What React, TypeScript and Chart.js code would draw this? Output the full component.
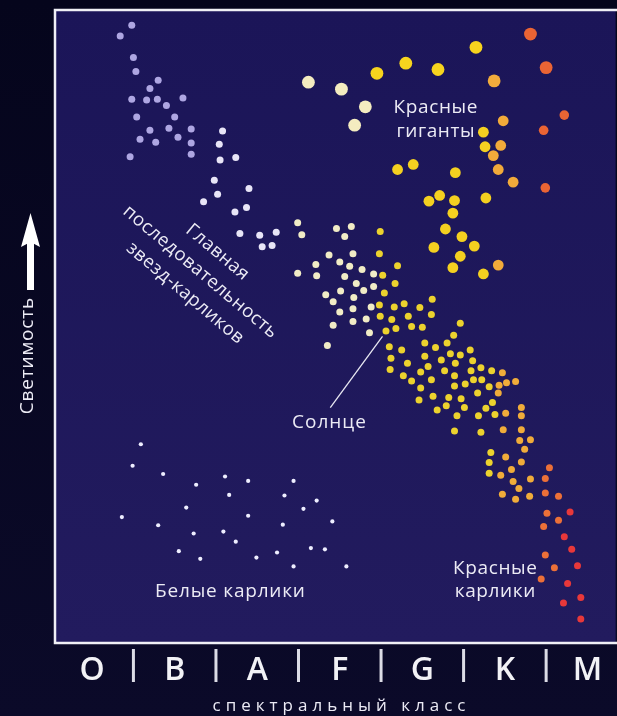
import React, { useEffect, useRef } from "react";
import { Chart, registerables } from "chart.js";
Chart.register(...registerables);

// ---------- DATA (x: spectral class index, O=0..M=6 with class width 1; y: relative luminosity 0..100) ----------
const spectralClasses = ["O", "B", "A", "F", "G", "K", "M"];
const xAxisTitle = "спектральный класс";
const yAxisTitle = "Светимость";

type P = [number, number];

const mainSeqOB: P[] = [
  [0.98, 97.6], [0.84, 95.9], [1.0, 92.5], [1.03, 90.3], [1.3, 88.9], [1.2, 87.6], [0.98, 85.9], [1.16, 85.8],
  [1.29, 85.9], [1.4, 84.9], [1.6, 86.1], [1.04, 83.1], [1.5, 83.1], [1.2, 81.0], [1.43, 81.3], [1.7, 81.2],
  [1.08, 79.6], [1.27, 79.1], [1.54, 79.9], [1.7, 79.0], [1.7, 77.2], [0.96, 76.8],
];
const mainSeqA: P[] = [
  [2.08, 80.9], [2.04, 78.8], [2.05, 76.3], [2.24, 76.7], [1.98, 73.1], [2.02, 70.9], [2.4, 71.8], [1.85, 69.7],
  [2.23, 68.1], [2.37, 68.8], [2.29, 64.7], [2.53, 64.4], [2.73, 64.9], [2.56, 62.6], [2.68, 62.8],
];
const mainSeqF: P[] = [
  [2.99, 66.4], [3.04, 64.5], [2.99, 58.4], [3.21, 59.8], [3.22, 58.0], [3.46, 65.5], [3.64, 65.8], [3.56, 64.2],
  [3.37, 61.3], [3.66, 61.5], [3.5, 60.2], [3.62, 59.5], [3.77, 59.0], [3.56, 57.9], [3.91, 58.3], [3.7, 56.8],
  [3.91, 56.3], [3.33, 55.0], [3.51, 55.6], [3.79, 55.7], [3.42, 53.9], [3.67, 54.6], [3.88, 53.1], [3.5, 52.3],
  [3.66, 52.8], [3.66, 50.8], [3.82, 51.2], [3.42, 50.2], [3.86, 49.0], [3.35, 47.0],
];
const mainSeqG: P[] = [
  [3.99, 65.0], [3.98, 61.5], [4.02, 58.1], [4.2, 59.6], [4.17, 56.8], [4.04, 55.3], [3.98, 53.4], [4.16, 53.1],
  [4.28, 53.6], [4.47, 53.0], [4.62, 54.3], [3.99, 51.6], [4.13, 51.1], [4.33, 51.6], [4.61, 51.9], [4.06, 49.3],
  [4.18, 49.7], [4.37, 50.0], [4.5, 49.9], [4.96, 50.5], [4.88, 48.6], [4.1, 46.8], [4.25, 46.3], [4.53, 47.4],
  [4.66, 46.7], [4.8, 47.4], [5.08, 46.3], [4.12, 45.0], [4.32, 44.2], [4.53, 45.3], [4.73, 44.7], [4.84, 45.7],
  [4.96, 45.5], [4.9, 44.2], [5.11, 44.6], [4.11, 43.2], [4.27, 42.2], [4.48, 42.8], [4.57, 43.7], [4.77, 43.0],
  [4.89, 42.2], [5.09, 43.0], [5.21, 43.5], [5.34, 43.0], [4.37, 41.4], [4.61, 41.6], [4.89, 40.6], [5.02, 40.9],
  [5.12, 41.6], [5.22, 41.6], [5.31, 40.5], [4.48, 40.3], [4.63, 39.0], [4.82, 38.8], [4.97, 38.6], [5.17, 39.5],
  [4.46, 38.4], [4.68, 36.8], [4.79, 37.5], [5.01, 37.2], [5.27, 37.1], [5.35, 38.0], [4.92, 35.9], [5.18, 35.9],
  [5.38, 36.1], [4.89, 33.5], [5.21, 33.3], [5.33, 30.1], [5.31, 28.5], [5.31, 26.8],
];
const mainSeqK: P[] = [
  [5.47, 42.7], [5.43, 40.7], [5.52, 41.1], [5.63, 41.3], [5.42, 39.5], [5.51, 36.3], [5.7, 37.2], [5.7, 35.9],
  [5.48, 33.7], [5.7, 33.7], [5.68, 32.0], [5.81, 32.1], [5.74, 30.6], [5.51, 29.4], [5.7, 28.6], [5.58, 27.4],
  [5.45, 26.5], [5.6, 25.5], [5.81, 25.9], [5.67, 24.4], [5.47, 23.5], [5.63, 22.7], [5.8, 23.2],
];
const mainSeqKM: P[] = [
  [6.04, 27.7], [5.99, 26.0], [5.99, 23.7], [6.15, 23.2], [6.01, 20.5], [6.15, 19.4], [5.97, 18.4], [5.99, 13.9],
  [6.1, 11.9], [5.94, 10.1],
];
const mainSeqM: P[] = [
  [6.29, 20.7], [6.22, 16.8], [6.31, 14.8], [6.38, 12.2], [6.26, 9.4], [6.42, 7.2], [6.21, 6.3], [6.42, 3.8],
];
const giantsPale: P[] = [[3.12, 88.6], [3.52, 87.5], [3.81, 84.7], [3.68, 81.8]];
const giantsYellow: P[] = [[3.95, 90.0], [4.3, 91.6], [4.69, 90.6], [5.15, 94.1]];
const giantsOrange: P[] = [[5.37, 88.8]];
const giantsRed: P[] = [[5.81, 96.2], [6.0, 90.9]];
const giantsRedSmall: P[] = [[6.22, 83.4], [5.97, 81.0], [5.99, 71.9]];
const subgiantsYellow: P[] = [
  [5.24, 80.7], [5.26, 78.4], [4.2, 74.8], [4.39, 75.6], [4.9, 74.3], [4.58, 69.8], [4.71, 70.7], [4.89, 69.9],
  [5.27, 70.3], [4.87, 67.9], [4.78, 65.4], [4.98, 64.2], [4.64, 62.5], [5.13, 62.7], [4.96, 61.1], [4.87, 59.3],
  [5.24, 58.3],
];
const subgiantsOrange: P[] = [[5.48, 82.5], [5.45, 78.6], [5.36, 77.0], [5.42, 74.8], [5.6, 72.8], [5.42, 59.7]];
const whiteDwarfs: P[] = [
  [1.09, 31.4], [0.99, 28.0], [1.36, 26.7], [1.76, 25.0], [2.11, 26.3], [2.39, 25.6], [2.94, 25.6], [2.16, 23.4],
  [2.83, 23.3], [3.22, 22.5], [1.64, 21.4], [3.06, 21.2], [0.86, 19.9], [2.39, 20.1], [1.3, 18.6], [2.81, 18.7],
  [3.41, 19.2], [1.73, 17.3], [2.09, 17.6], [2.24, 16.0], [1.55, 14.5], [1.81, 13.3], [2.49, 13.5], [2.74, 14.3],
  [3.15, 15.0], [3.32, 14.8], [2.94, 12.1], [3.58, 12.1],
];
const sun: P = [4.06, 49.3];

const X_MIN = 0.05;
const X_MAX = 6.781;

const toPts = (a: P[]) => a.map(([x, y]) => ({ x, y }));

const FONT = '"Open Sans", "DejaVu Sans", sans-serif';
const TEXT = "#ecebf5";

function txt(ctx: CanvasRenderingContext2D, s: string, x: number, y: number, size: number, spacing = 0, weight = "400") {
  ctx.font = `${weight} ${size}px ${FONT}`;
  (ctx as any).letterSpacing = `${spacing}px`;
  ctx.textAlign = "center";
  ctx.textBaseline = "alphabetic";
  ctx.fillText(s, x + spacing / 2, y);
}

const decorPlugin = {
  id: "decor",
  beforeDraw(chart: any) {
    const { ctx, chartArea: a, width, height } = chart;
    ctx.save();
    const g = ctx.createLinearGradient(0, 0, 0, height);
    g.addColorStop(0, "#05051c");
    g.addColorStop(1, "#0b0a29");
    ctx.fillStyle = g;
    ctx.fillRect(0, 0, width, height);
    const g2 = ctx.createLinearGradient(0, a.top, 0, a.bottom);
    g2.addColorStop(0, "#1b1558");
    g2.addColorStop(1, "#221b5e");
    ctx.fillStyle = g2;
    ctx.fillRect(a.left, a.top, a.right - a.left + 5, a.bottom - a.top);
    ctx.restore();
  },
  afterDraw(chart: any) {
    const { ctx, chartArea: a } = chart;
    const xs = chart.scales.x;
    const ys = chart.scales.y;
    ctx.save();
    // frame
    ctx.strokeStyle = "#f0f0f6";
    ctx.lineWidth = 2.5;
    ctx.strokeRect(a.left, a.top, a.right - a.left + 10, a.bottom - a.top);

    // spectral class letters + separators
    ctx.fillStyle = "#f2f2f6";
    spectralClasses.forEach((c, i) => {
      txt(ctx, c, xs.getPixelForValue(i + 0.5), a.bottom + 37, 32, 0, "600");
    });
    ctx.fillStyle = "#dcdce6";
    for (let i = 1; i < spectralClasses.length; i++) {
      const px = xs.getPixelForValue(i);
      ctx.fillRect(px - 1.5, a.bottom + 6, 3, 33);
    }
    ctx.fillStyle = TEXT;
    txt(ctx, xAxisTitle, (a.left + 617) / 2 + 3, a.bottom + 68, 17, 5);

    // y axis title + arrow
    ctx.save();
    ctx.translate(33, 356);
    ctx.rotate(-Math.PI / 2);
    txt(ctx, yAxisTitle, 0, 0, 19, 0.8);
    ctx.restore();
    ctx.fillStyle = "#ffffff";
    ctx.fillRect(27, 240, 7, 50);
    ctx.beginPath();
    ctx.moveTo(30.5, 213);
    ctx.lineTo(40, 247);
    ctx.lineTo(30.5, 242);
    ctx.lineTo(21, 247);
    ctx.closePath();
    ctx.fill();

    // annotations
    ctx.fillStyle = TEXT;
    txt(ctx, "Красные", 435.5, 113, 19, 0.6);
    txt(ctx, "гиганты", 435.5, 137, 19, 0.6);
    txt(ctx, "Белые карлики", 230, 597, 19, 0.8);
    txt(ctx, "Красные", 495, 573.5, 19, 0.6);
    txt(ctx, "карлики", 495, 596.5, 19, 0.6);
    txt(ctx, "Солнце", 329, 428, 19, 1);

    ctx.save();
    ctx.translate(200, 272);
    ctx.rotate((40 * Math.PI) / 180);
    txt(ctx, "Главная", 0.5, -21, 18.5, 0.5);
    txt(ctx, "последовательность", 0, 5, 18.5, 0.5);
    txt(ctx, "звезд-карликов", 2, 31, 18.5, 0.5);
    ctx.restore();

    // Sun pointer line
    const sx = xs.getPixelForValue(sun[0]);
    const sy = ys.getPixelForValue(sun[1]);
    ctx.strokeStyle = "#e8e8f2";
    ctx.lineWidth = 1.3;
    ctx.beginPath();
    ctx.moveTo(sx - 3.5, sy + 5.5);
    ctx.lineTo(sx - 55.7, sy + 76.6);
    ctx.stroke();
    ctx.restore();
  },
};

function ds(label: string, data: P[], color: string, r: number) {
  return {
    label,
    data: toPts(data),
    backgroundColor: color,
    borderWidth: 0,
    pointRadius: r,
    pointHoverRadius: r,
    pointBorderWidth: 0,
    showLine: false,
  };
}

export default function App() {
  const ref = useRef<HTMLCanvasElement | null>(null);
  useEffect(() => {
    document.body.style.margin = "0";
    document.body.style.background = "#07071f";
    if (!ref.current) return;
    const chart = new Chart(ref.current, {
      type: "scatter",
      data: {
        datasets: [
          ds("white dwarfs", whiteDwarfs, "#eeeeff", 2.1),
          ds("O-B", mainSeqOB, "#aea6e2", 3.5),
          ds("A", mainSeqA, "#e8e5f7", 3.5),
          ds("F", mainSeqF, "#f1ecc6", 3.5),
          ds("G", mainSeqG, "#ecd22e", 3.5),
          ds("K", mainSeqK, "#f0ac3a", 3.5),
          ds("K-M", mainSeqKM, "#ec7038", 3.5),
          ds("M", mainSeqM, "#e8383a", 3.5),
          ds("subgiants yellow", subgiantsYellow, "#f4d020", 5.4),
          ds("subgiants orange", subgiantsOrange, "#f2aa3a", 5.4),
          ds("giants pale", giantsPale, "#f4ecc0", 6.4),
          ds("giants yellow", giantsYellow, "#f7d41e", 6.4),
          ds("giants orange", giantsOrange, "#f2ac3c", 6.4),
          ds("giants red", giantsRed, "#ea6434", 6.4),
          ds("giants red small", giantsRedSmall, "#ea6434", 4.8),
        ] as any,
      },
      options: {
        responsive: false,
        devicePixelRatio: 1,
        animation: false,
        layout: { padding: { left: 55, right: 0, top: 10, bottom: 73 } },
        scales: {
          x: { type: "linear", display: false, min: X_MIN, max: X_MAX },
          y: { type: "linear", display: false, min: 0, max: 100 },
        },
        plugins: { legend: { display: false }, tooltip: { enabled: false } },
        events: [],
      } as any,
      plugins: [decorPlugin],
    });
    return () => chart.destroy();
  }, []);
  return <canvas ref={ref} width={617} height={716} style={{ display: "block" }} />;
}
